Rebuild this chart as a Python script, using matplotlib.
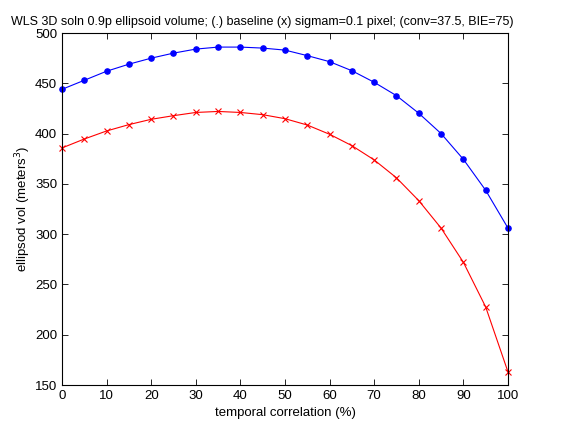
import matplotlib
matplotlib.use("Agg")
import matplotlib.pyplot as plt

plt.rcParams['font.family'] = ['Liberation Sans', 'DejaVu Sans']

corr = [0, 5, 10, 15, 20, 25, 30, 35, 40, 45, 50, 55, 60, 65, 70, 75, 80, 85, 90, 95, 100]
baseline = [444, 453, 462, 469, 475, 480, 484, 486, 486, 485, 483, 477.5, 471.5, 462.5, 451, 437.7, 420.2, 400, 374.4, 343.6, 306]
sigmam = [385.7, 394.6, 402.6, 408.9, 414.2, 417.8, 421, 422, 421, 418.8, 414.8, 408.5, 399.3, 388, 373.8, 356, 333.3, 306, 272, 227.6, 163]

fig = plt.figure(figsize=(5.61, 4.21), dpi=100)
ax = fig.add_axes([0.1105, 0.0855, 0.795, 0.8361])
ax.plot(corr, baseline, color='#0000ff', marker='.', markersize=7.5, linewidth=0.8, clip_on=False)
ax.plot(corr, sigmam, color='#ff0000', marker='x', markersize=5, markeredgewidth=0.8, linewidth=0.8, clip_on=False)
ax.set_xlim(0, 100)
ax.set_ylim(150, 500)
ax.set_xticks(range(0, 101, 10))
ax.set_yticks(range(150, 501, 50))
ax.tick_params(direction='in', top=True, right=True, labelsize=9.5, length=4, width=0.6)
for s in ax.spines.values():
    s.set_linewidth(0.8)
ax.set_xlabel('temporal correlation (%)', fontsize=9.5, labelpad=4)
ax.set_ylabel('ellipsod vol (meters$^3$)', fontsize=9.5, labelpad=1)
ax.set_title('WLS 3D soln 0.9p ellipsoid volume; (.) baseline (x) sigmam=0.1 pixel; (conv=37.5, BIE=75)', fontsize=9, pad=6, x=0.448)
fig.savefig('out.png', dpi=100)
